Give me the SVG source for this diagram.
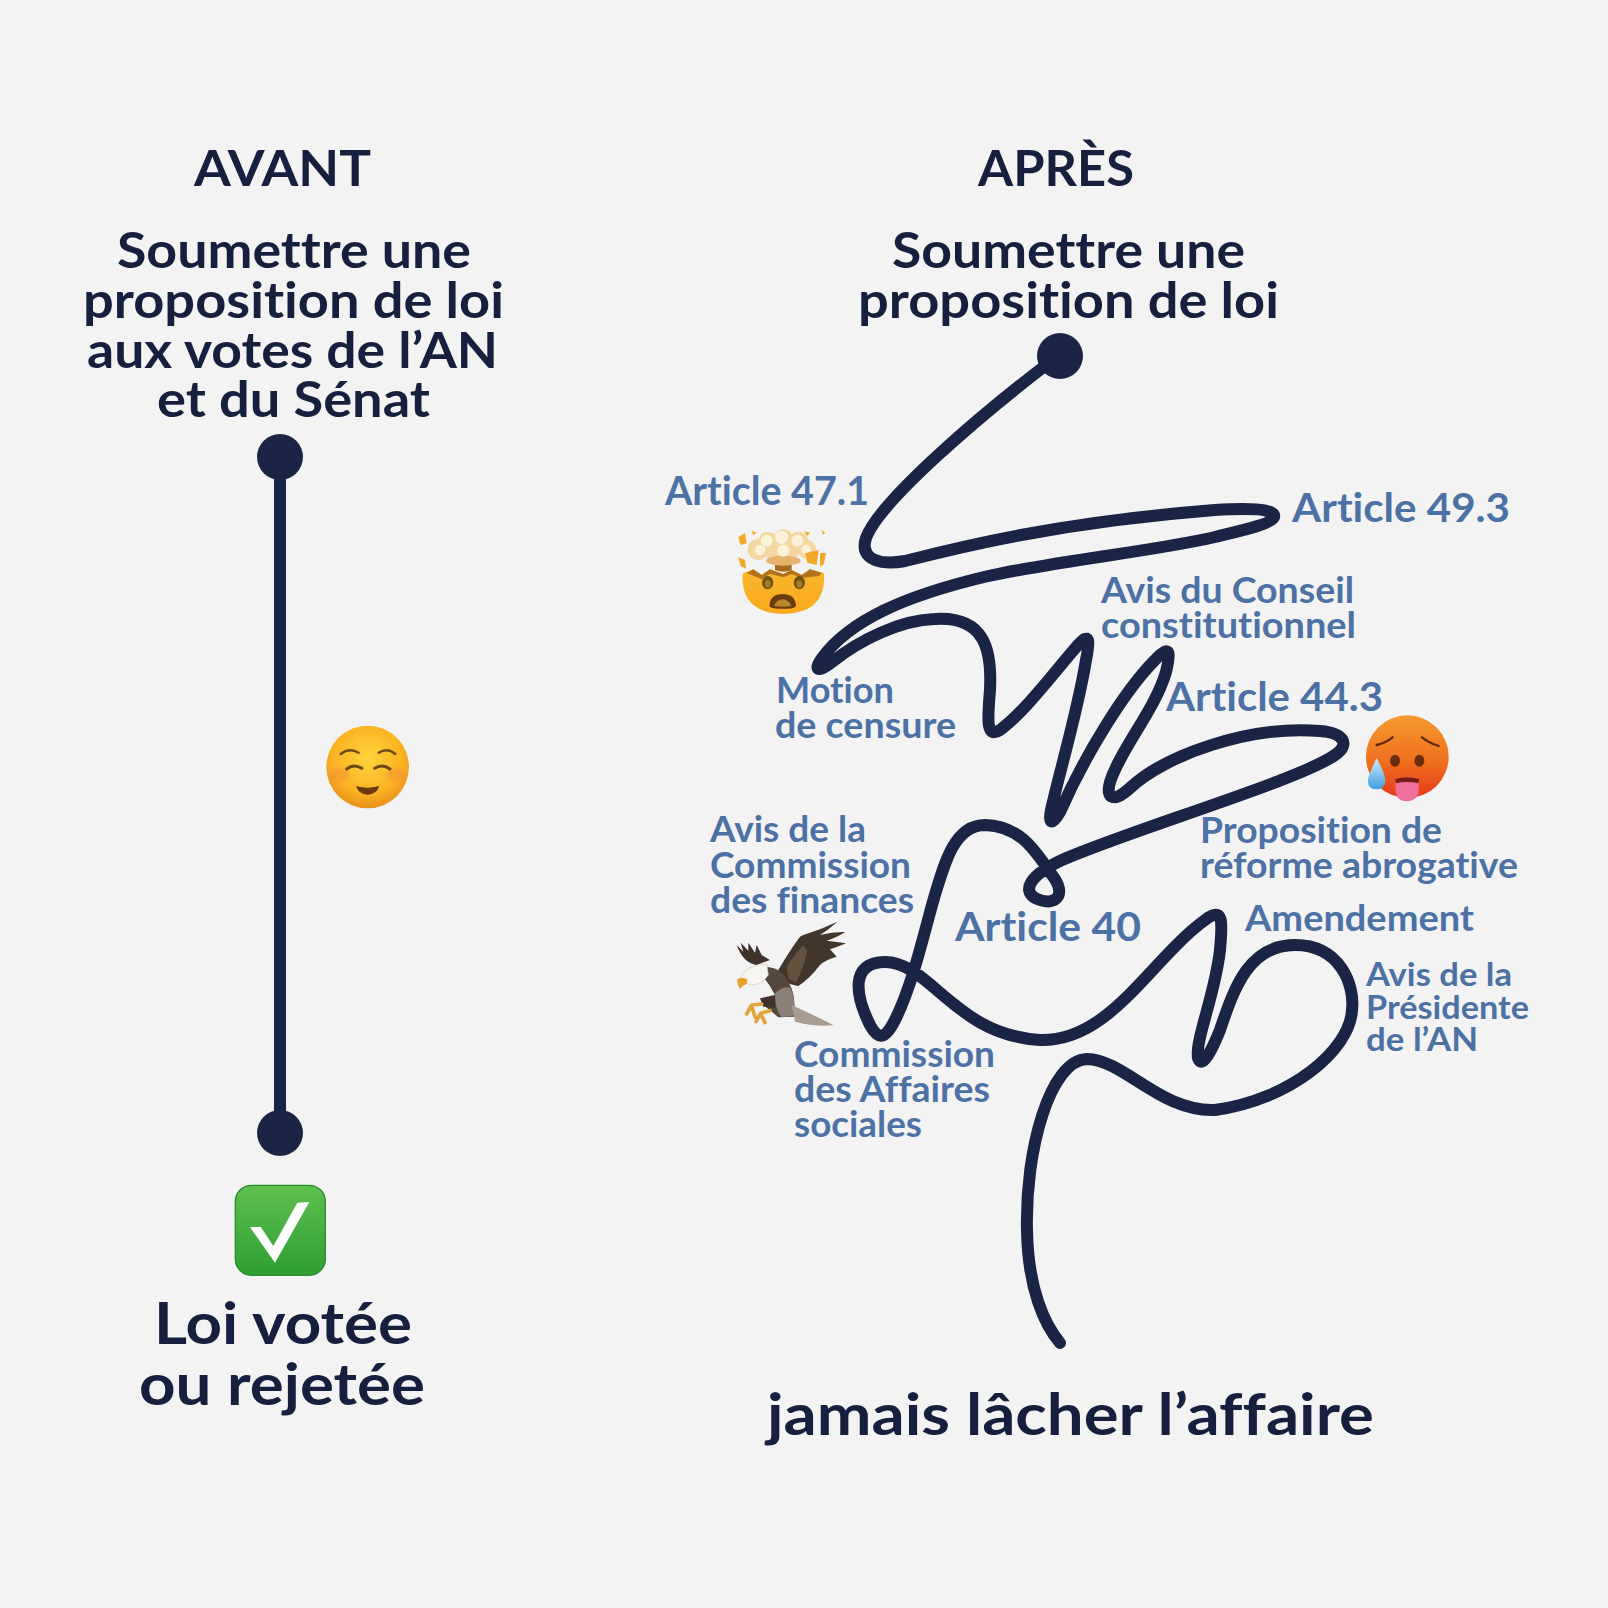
<svg xmlns="http://www.w3.org/2000/svg" width="1608" height="1608" viewBox="0 0 1608 1608">
<style>
text{font-family:"Lato","Open Sans",sans-serif;font-weight:700;font-variant-ligatures:none}
.d{fill:#161F3E}
.h{font-size:50px}
.b{font-size:58px}
.l{fill:#4C71A4}
.m{font-size:40px}
.s{font-size:36px}
.t{font-size:33px}
.w{fill:none;stroke:#1A2444;stroke-width:12;stroke-linecap:round;stroke-linejoin:round}
.dot{fill:#1A2444}
.br{fill:none;stroke-linecap:round;stroke-linejoin:round}
</style>
<defs>
<radialGradient id="gy" cx="50%" cy="40%" r="60%"><stop offset="0" stop-color="#FFD43A"/><stop offset=".7" stop-color="#FBB324"/><stop offset="1" stop-color="#E8901A"/></radialGradient>
<linearGradient id="gf" x1="0" y1="0" x2="0" y2="1"><stop offset="0" stop-color="#F8B62C"/><stop offset="1" stop-color="#FBA91F"/></linearGradient>
<linearGradient id="gh" x1="0" y1="0" x2="0" y2="1"><stop offset="0" stop-color="#F59A2E"/><stop offset=".55" stop-color="#F0701F"/><stop offset="1" stop-color="#E63A1B"/></linearGradient>
<linearGradient id="gd" x1="0" y1="0" x2="0" y2="1"><stop offset="0" stop-color="#CFE9F7"/><stop offset="1" stop-color="#3F9FE0"/></linearGradient>
<linearGradient id="gg" x1="0" y1="0" x2="0" y2="1"><stop offset="0" stop-color="#5DC04F"/><stop offset="1" stop-color="#2F9E33"/></linearGradient>
<filter id="sf"><feGaussianBlur stdDeviation="0.6"/></filter>
<filter id="bl"><feGaussianBlur stdDeviation="5"/></filter>
</defs>
<rect width="1608" height="1608" fill="#F3F3F3"/>

<g id="connectors">
<path class="w" d="M280 457V1133"/>
<path class="w" d="M1056 358L1041 369C985 412 880 500 866 538C858 562 885 565 905 561C960 547 1060 522 1215 510C1245 508 1276 508 1274 517C1272 524 1240 531 1215 537C1150 552 1060 560 984 577C905 596 850 620 822 658C812 672 820 672 832 662C860 640 900 620 935 619C985 616 992 650 990 690C988 715 985 740 1000 730C1025 712 1060 665 1078 645C1090 632 1090 640 1086 660C1078 710 1060 770 1051 810C1048 825 1053 825 1060 812C1085 755 1125 690 1155 660C1172 642 1170 655 1166 672C1155 710 1120 750 1110 782C1105 800 1115 802 1130 788C1165 755 1250 725 1320 731C1345 733 1350 745 1335 755C1300 780 1130 830 1062 860C1030 875 1022 890 1035 898C1055 908 1068 895 1052 875C1035 850 1020 826 985 825C955 825 945 860 932 905C920 950 910 990 895 1020C885 1040 878 1040 870 1025C855 995 850 962 885 962C930 962 955 1035 1040 1040C1110 1042 1150 960 1205 920C1225 905 1222 925 1220 950C1215 995 1195 1040 1198 1058C1202 1070 1212 1050 1220 1030C1235 985 1250 945 1295 945C1340 945 1355 985 1352 1010C1350 1050 1290 1100 1215 1110C1160 1112 1125 1060 1087 1059C1050 1060 1025 1150 1027 1230C1028 1290 1045 1325 1060 1343"/>
</g>

<g id="avant-start"><circle class="dot" cx="280" cy="457" r="23"/></g>
<g id="avant-end"><circle class="dot" cx="280" cy="1133" r="23"/></g>
<g id="apres-start"><circle class="dot" cx="1060" cy="356" r="23"/></g>

<g id="avant-title">
<text class="d h" x="194" y="186" textLength="177" lengthAdjust="spacingAndGlyphs">AVANT</text>
<text class="d h" x="117" y="268" textLength="354" lengthAdjust="spacingAndGlyphs">Soumettre une</text>
<text class="d h" x="83" y="318" textLength="421" lengthAdjust="spacingAndGlyphs">proposition de loi</text>
<text class="d h" x="87" y="368" textLength="411" lengthAdjust="spacingAndGlyphs">aux votes de l’AN</text>
<text class="d h" x="157" y="417" textLength="273" lengthAdjust="spacingAndGlyphs">et du Sénat</text>
</g>
<g id="apres-title">
<text class="d h" x="978" y="186" textLength="156" lengthAdjust="spacingAndGlyphs">APRÈS</text>
<text class="d h" x="892" y="268" textLength="353" lengthAdjust="spacingAndGlyphs">Soumettre une</text>
<text class="d h" x="858" y="318" textLength="421" lengthAdjust="spacingAndGlyphs">proposition de loi</text>
</g>
<g id="avant-result">
<text class="d b" x="154" y="1344" textLength="258" lengthAdjust="spacingAndGlyphs">Loi votée</text>
<text class="d b" x="139" y="1405" textLength="286" lengthAdjust="spacingAndGlyphs">ou rejetée</text>
</g>
<g id="apres-result">
<text class="d b" x="767" y="1435" textLength="607" lengthAdjust="spacingAndGlyphs">jamais lâcher l’affaire</text>
</g>

<g id="article-47-1"><text class="l m" x="665" y="505" textLength="204" lengthAdjust="spacingAndGlyphs">Article 47.1</text></g>
<g id="article-49-3"><text class="l m" x="1292" y="522" textLength="218" lengthAdjust="spacingAndGlyphs">Article 49.3</text></g>
<g id="avis-conseil">
<text class="l s" x="1101" y="603" textLength="253" lengthAdjust="spacingAndGlyphs">Avis du Conseil</text>
<text class="l s" x="1101" y="638" textLength="255" lengthAdjust="spacingAndGlyphs">constitutionnel</text>
</g>
<g id="motion-censure">
<text class="l s" x="776" y="703" textLength="118" lengthAdjust="spacingAndGlyphs">Motion</text>
<text class="l s" x="775" y="738" textLength="181" lengthAdjust="spacingAndGlyphs">de censure</text>
</g>
<g id="article-44-3"><text class="l m" x="1166" y="711" textLength="217" lengthAdjust="spacingAndGlyphs">Article 44.3</text></g>
<g id="proposition-reforme">
<text class="l s" x="1200" y="843" textLength="242" lengthAdjust="spacingAndGlyphs">Proposition de</text>
<text class="l s" x="1200" y="878" textLength="318" lengthAdjust="spacingAndGlyphs">réforme abrogative</text>
</g>
<g id="avis-finances">
<text class="l s" x="710" y="842" textLength="156" lengthAdjust="spacingAndGlyphs">Avis de la</text>
<text class="l s" x="710" y="878" textLength="201" lengthAdjust="spacingAndGlyphs">Commission</text>
<text class="l s" x="710" y="913" textLength="204" lengthAdjust="spacingAndGlyphs">des finances</text>
</g>
<g id="article-40"><text class="l m" x="955" y="941" textLength="186" lengthAdjust="spacingAndGlyphs">Article 40</text></g>
<g id="amendement"><text class="l s" x="1245" y="931" textLength="229" lengthAdjust="spacingAndGlyphs">Amendement</text></g>
<g id="avis-presidente">
<text class="l t" x="1366" y="986" textLength="146" lengthAdjust="spacingAndGlyphs">Avis de la</text>
<text class="l t" x="1366" y="1019" textLength="163" lengthAdjust="spacingAndGlyphs">Présidente</text>
<text class="l t" x="1366" y="1051" textLength="112" lengthAdjust="spacingAndGlyphs">de l’AN</text>
</g>
<g id="commission-affaires">
<text class="l s" x="794" y="1067" textLength="201" lengthAdjust="spacingAndGlyphs">Commission</text>
<text class="l s" x="794" y="1102" textLength="196" lengthAdjust="spacingAndGlyphs">des Affaires</text>
<text class="l s" x="794" y="1137" textLength="128" lengthAdjust="spacingAndGlyphs">sociales</text>
</g>

<g id="emoji-relaxed" transform="translate(310 710) scale(.3333)" filter="url(#sf)">
<circle cx="173" cy="171" r="124" fill="url(#gy)"/>
<ellipse cx="88" cy="195" rx="30" ry="20" fill="#F0843A" opacity=".4" filter="url(#bl)"/>
<ellipse cx="258" cy="195" rx="30" ry="20" fill="#F0843A" opacity=".4" filter="url(#bl)"/>
<g class="br" stroke="#6B4A12">
<path stroke-width="7" d="M92 132Q118 112 146 128"/>
<path stroke-width="7" d="M206 128Q232 112 256 132"/>
<path stroke-width="9" d="M110 177Q130 160 156 175"/>
<path stroke-width="9" d="M194 175Q218 160 240 177"/>
</g>
<path d="M138 228Q173 238 208 228Q200 254 173 254Q146 254 138 228Z" fill="#6B3B10"/>
</g>

<g id="emoji-check" transform="translate(220 1170) scale(.3333)" filter="url(#sf)">
<rect x="46" y="46" width="270" height="270" rx="48" fill="url(#gg)" stroke="#2E8B30" stroke-width="4"/>
<path d="M90 172L122 170L160 228L232 98L268 96L165 278Z" fill="#fff"/>
</g>

<g id="emoji-mindblown" transform="translate(720 510) scale(.3333)" filter="url(#sf)">
<path d="M68 190Q60 310 190 312Q320 310 312 190L270 178L245 195L215 180L190 192L150 178L125 195L100 178Z" fill="url(#gf)"/>
<path d="M80 190L100 178L125 195L150 178L190 192L215 180L245 195L270 178L305 188L298 198L245 204L215 192L190 202L150 192L125 208L95 195Z" fill="#B0721E"/>
<path d="M165 150H215V180Q190 190 165 180Z" fill="#A8691C"/>
<g fill="#F3D6A0">
<circle cx="115" cy="118" r="32"/><circle cx="260" cy="118" r="28"/>
<circle cx="145" cy="95" r="30"/><circle cx="190" cy="88" r="30"/><circle cx="235" cy="95" r="30"/>
<circle cx="160" cy="125" r="26"/><circle cx="210" cy="125" r="26"/>
<ellipse cx="190" cy="152" rx="52" ry="15" fill="#E4B36C"/>
</g>
<g fill="#FCF2D8">
<circle cx="140" cy="92" r="18"/><circle cx="185" cy="82" r="20"/><circle cx="232" cy="92" r="18"/><circle cx="120" cy="120" r="16"/><circle cx="190" cy="122" r="18"/><circle cx="258" cy="118" r="14"/>
</g>
<g fill="#F2A72A">
<path d="M55 142L75 150L78 176L62 168Z"/>
<path d="M55 82L75 68L80 100L62 105Z"/>
<path d="M95 62L110 68L100 76Z"/>
<path d="M252 64L270 68L262 78Z"/>
<path d="M305 60L316 68L308 74Z"/>
<path d="M255 130L296 120L290 165L262 158Z"/>
<path d="M300 130L318 128L312 162L300 170Z"/>
</g>
<ellipse cx="143" cy="218" rx="17" ry="20" fill="#6E5313"/>
<ellipse cx="238" cy="218" rx="17" ry="20" fill="#6E5313"/>
<ellipse cx="143" cy="222" rx="9" ry="11" fill="#A07F26"/>
<ellipse cx="238" cy="222" rx="9" ry="11" fill="#A07F26"/>
<path d="M148 285Q152 252 188 252Q224 252 228 285Q230 298 188 296Q146 298 148 285Z" fill="#6B3B10"/>
<path d="M162 288Q170 268 188 268Q206 268 214 288Q188 292 162 288Z" fill="#B7872A"/>
</g>

<g id="emoji-hot" transform="translate(1350 700) scale(.3333)" filter="url(#sf)">
<circle cx="172" cy="170" r="124" fill="url(#gh)"/>
<path class="br" stroke="#5E2A0E" stroke-width="7" d="M80 135Q108 128 128 112"/>
<path class="br" stroke="#5E2A0E" stroke-width="7" d="M216 112Q236 128 266 138"/>
<ellipse cx="135" cy="182" rx="15" ry="18" fill="#6B2D0B"/>
<ellipse cx="208" cy="182" rx="15" ry="18" fill="#6B2D0B"/>
<path d="M135 238Q172 226 208 238L205 280Q198 304 170 304Q142 304 138 278Z" fill="#EE6F9A"/>
<path d="M135 238Q172 226 208 238L205 250Q172 242 138 250Z" fill="#7A1C12"/>
<path d="M80 175Q108 225 106 245Q102 268 78 268Q52 266 54 240Q56 220 80 175Z" fill="url(#gd)"/>
</g>

<g id="emoji-eagle" transform="translate(720 910) scale(.3333)" filter="url(#sf)">
<path d="M50 105L70 125L62 98L85 122L85 98L105 128L110 105L125 135L150 150L110 165Q70 160 50 105Z" fill="#3F332B"/>
<path d="M175 180Q210 120 240 80L250 75Q300 60 352 35Q325 60 300 75Q340 65 376 66Q345 85 320 92Q350 95 378 100Q350 112 330 118L350 140Q315 150 300 165Q270 205 235 228Q205 225 185 205Z" fill="#42352C"/>
<path d="M200 170Q225 130 250 105L262 125Q250 175 228 218L205 205Z" fill="#65513F"/>
<path d="M130 170Q185 170 205 215Q230 255 222 320L175 322Q150 300 130 285L165 255Q150 225 130 200Z" fill="#54463B"/>
<path d="M165 250Q195 225 212 235Q228 270 220 318L185 322Q165 300 165 250Z" fill="#8B8178"/>
<path d="M215 285Q270 310 340 345Q290 352 225 335Z" fill="#A89D90"/>
<path d="M120 265L165 255L165 295L130 290Z" fill="#3F332B"/>
<path d="M60 205Q75 165 140 162L145 195Q125 225 95 225Q75 222 70 205Z" fill="#F7F5F0" stroke="#CFC8BC" stroke-width="2"/>
<path d="M52 207Q65 200 82 208L80 222Q68 225 60 236Q50 222 52 207Z" fill="#E5A22A"/>
<path class="br" stroke="#E0A63A" stroke-width="11" d="M125 282L95 285L80 312M95 290L106 322M150 302L122 310L108 335M122 312L135 338"/>
</g>
</svg>
